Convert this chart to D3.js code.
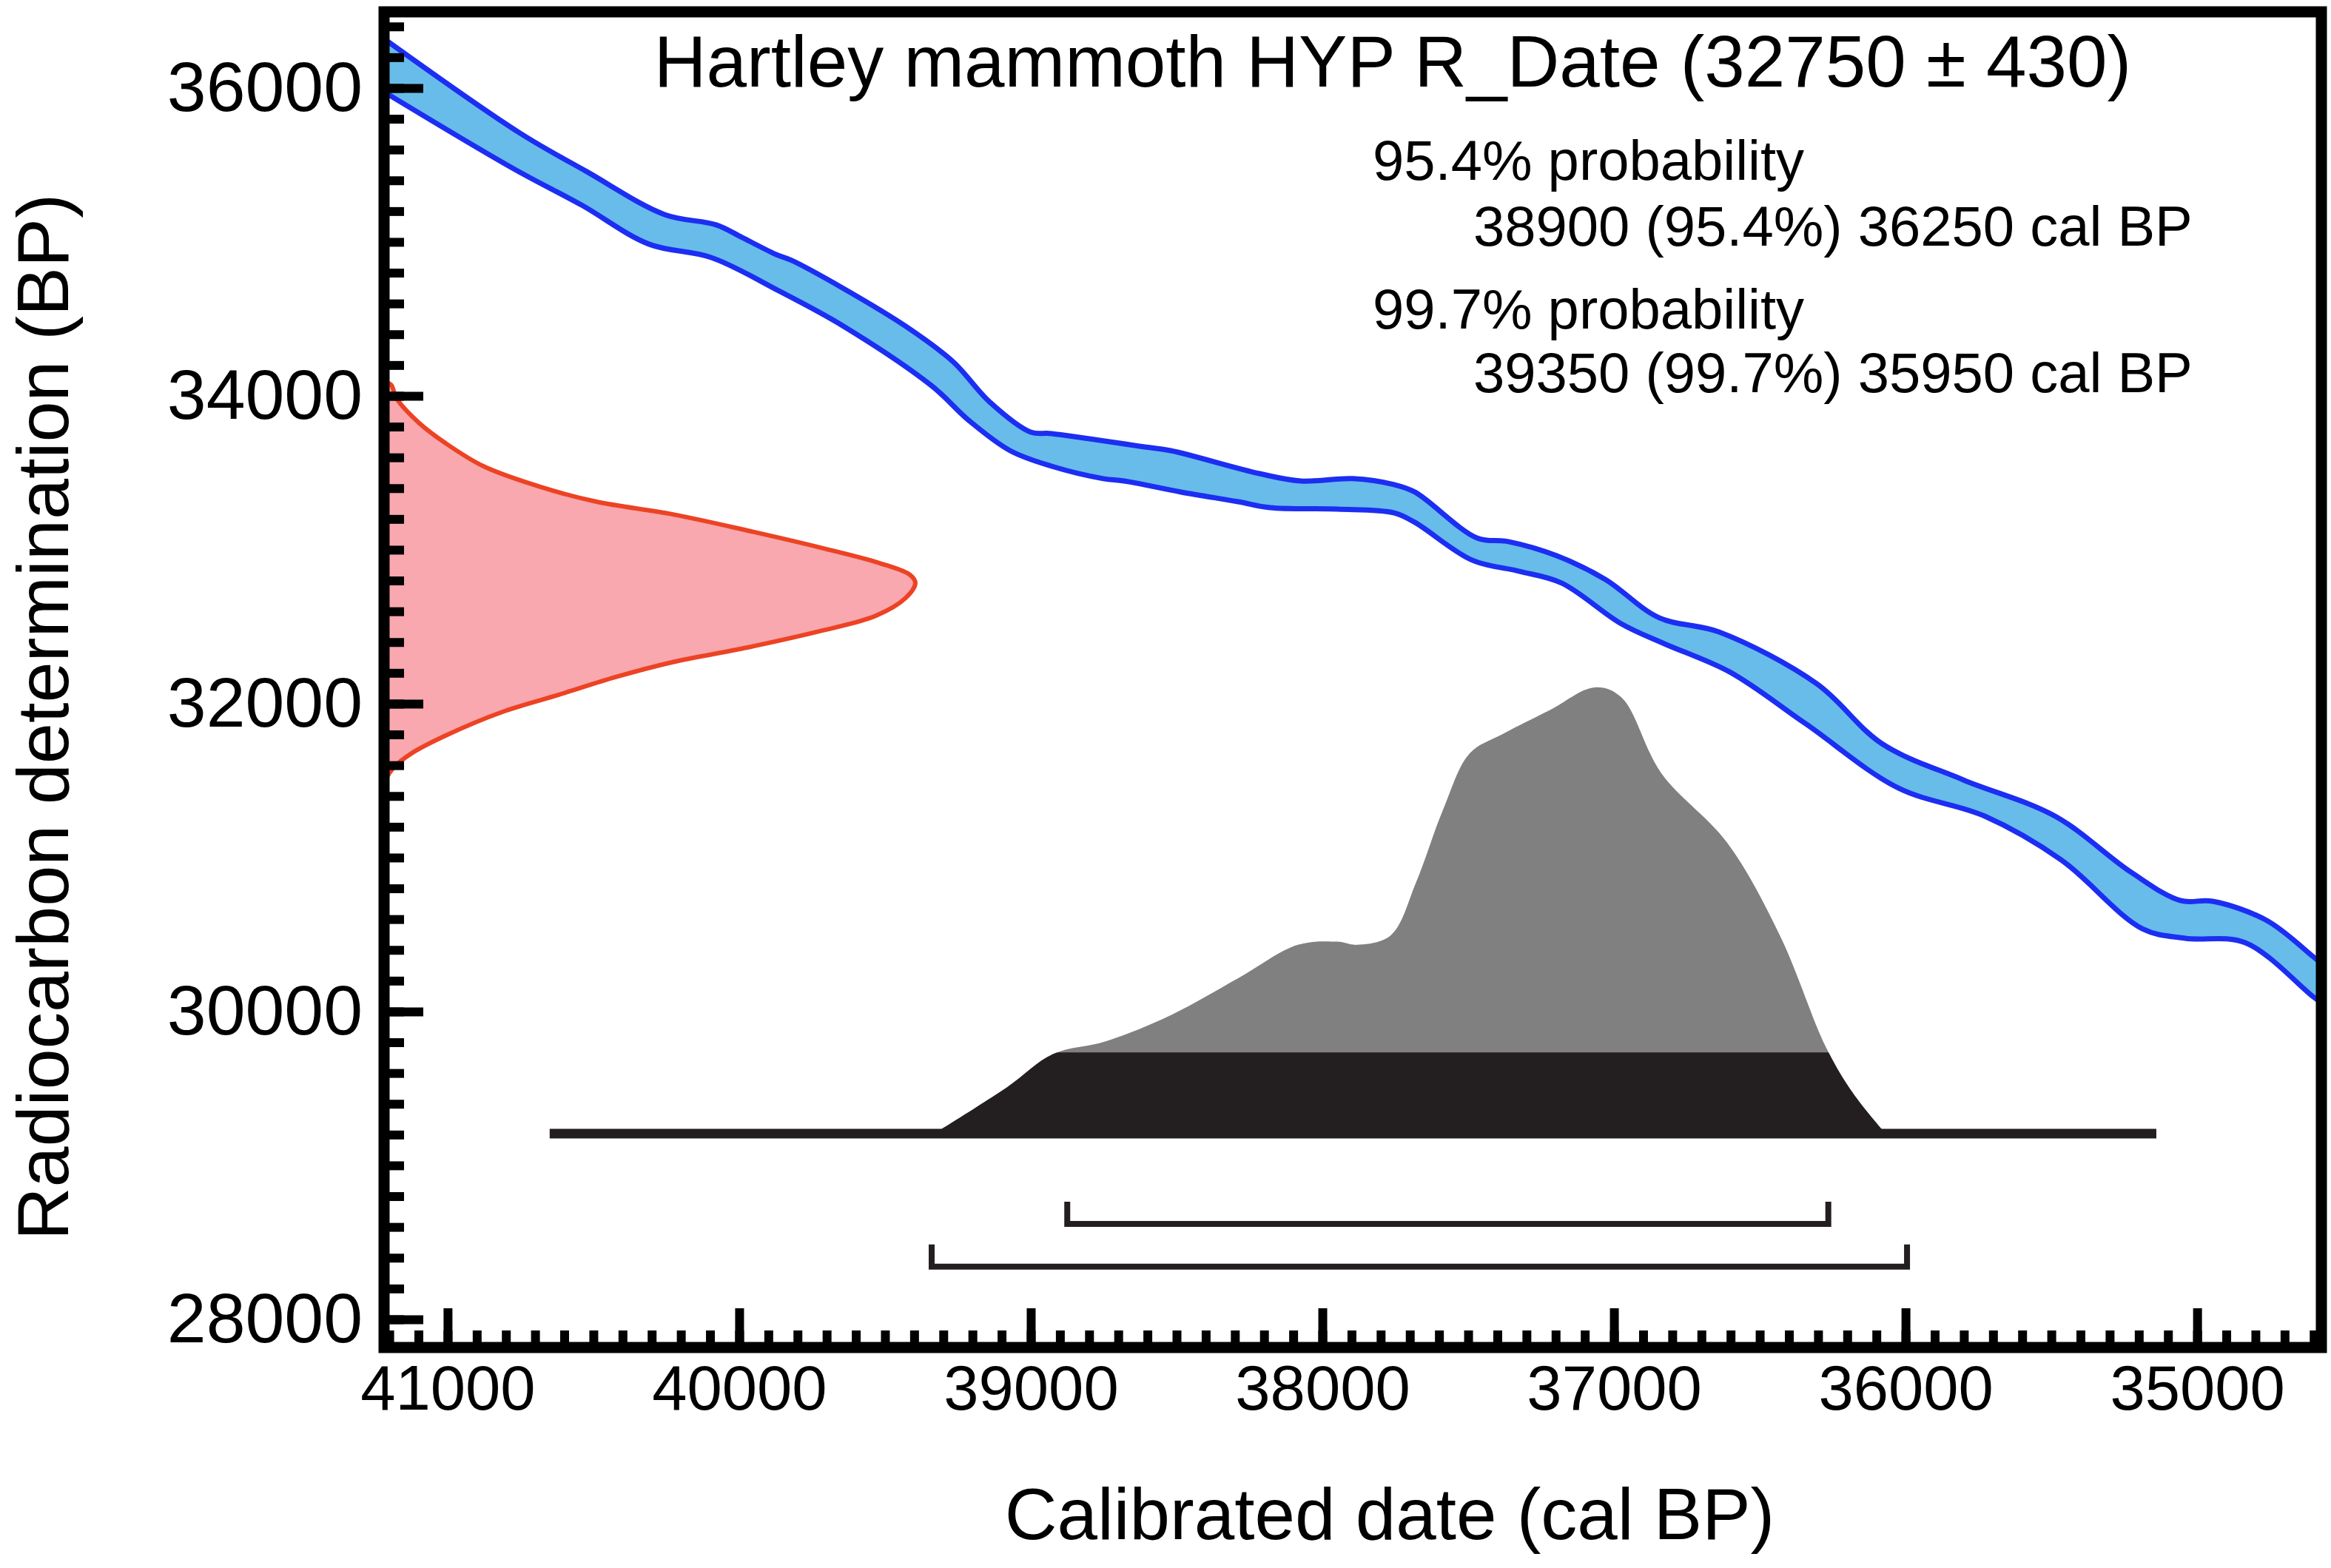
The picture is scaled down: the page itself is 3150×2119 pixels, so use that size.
<!DOCTYPE html>
<html>
<head>
<meta charset="utf-8">
<script src="https://cdn.jsdelivr.net/npm/d3@7"></script>
<style>
  body { margin: 0; background: #fff; }
  text { font-family: "Liberation Sans", Arial, sans-serif; fill: #000; }
</style>
</head>
<body>
<div id="chart"></div>
<script>
// axis ranges
var xDomain = [41218, 34574];   // cal BP, left -> right
var yDomain = [36495, 27817];   // radiocarbon BP, top -> bottom
var xMajor = [41000, 40000, 39000, 38000, 37000, 36000, 35000];
var yMajor = [28000, 30000, 32000, 34000, 36000];

// calibration curve band (cal BP, BP) - upper and lower edges
var calUpper = [[41218,36320],[40756,35712],[40523,35457],[40256,35178],[40079,35111],[39990,35029],
  [39873,34918],[39820,34880],[39642,34697],[39429,34452],[39266,34221],[39142,33962],[39000,33764],
  [38929,33755],[38609,33668],[38520,33644],[38216,33495],[38074,33447],[37896,33462],[37754,33423],
  [37683,33375],[37470,33077],[37363,33053],[37198,32962],[37030,32808],[36845,32558],[36640,32466],
  [36305,32130],[36081,31740],[35802,31505],[35487,31269],[35226,30904],[35058,30721],[34947,30716],
  [34761,30591],[34602,30356],[34560,30290]];
var calLower = [[41218,35975],[40774,35476],[40541,35240],[40310,34986],[40096,34899],[39865,34683],
  [39642,34452],[39338,34062],[39213,33841],[39071,33644],[38929,33543],[38751,33462],[38680,33447],
  [38485,33375],[38289,33312],[38180,33274],[37949,33264],[37754,33240],[37683,33178],[37487,32933],
  [37327,32861],[37180,32784],[36975,32519],[36827,32389],[36604,32207],[36343,31870],[36025,31452],
  [35728,31269],[35467,30986],[35188,30538],[35041,30476],[34835,30447],[34602,30096],[34560,30040]];

// radiocarbon date distribution on the y axis (BP, relative density)
var rBP   = [34090,34072,33981,33827,33692,33543,33409,33312,33231,33125,33010,32913,32837,32784,
             32688,32572,32476,32365,32269,32173,32058,31947,31793,31678,31582,31510,31420];
var rDens = [0,0.013,0.024,0.065,0.116,0.187,0.294,0.400,0.542,0.684,0.826,0.933,0.990,1.0,
             0.982,0.926,0.826,0.684,0.542,0.436,0.329,0.223,0.116,0.052,0.017,0.004,0];

// calibrated distribution (cal BP, relative probability)
var calYears = [39331,39081,38924,38741,38515,38289,38084,37949,37881,37766,37678,37586,37495,
                37383,37223,37066,36975,36838,36612,36431,36272,36180,36069];
var calProb  = [0,0.104,0.178,0.207,0.267,0.348,0.423,0.430,0.423,0.444,0.564,0.726,0.852,
                0.895,0.948,1.0,0.978,0.808,0.652,0.444,0.192,0.090,0];
var hpdLevel = 0.182;
var baseRange = [40650, 35140];

// ranges under the distribution
var rangeNames = ["95.4%", "99.7%"];
var rangeFrom = [38875, 39340];
var rangeTo   = [36265, 35995];
var rangeBP   = [28620, 28342];

var titleText = "Hartley mammoth HYP R_Date (32750 \u00b1 430)";
var noteLines = ["95.4% probability", "38900 (95.4%) 36250 cal BP",
                 "99.7% probability", "39350 (99.7%) 35950 cal BP"];

var W = 3150, H = 2119;
var margin = {top: 16, right: 13, bottom: 298, left: 519};
var width = W - margin.left - margin.right,
    height = H - margin.top - margin.bottom;

var svg = d3.select("#chart").append("svg")
  .attr("width", W).attr("height", H);

var g = svg.append("g")
  .attr("transform", "translate(" + margin.left + "," + margin.top + ")");

var x = d3.scaleLinear().domain(xDomain).range([0, width]);
var y = d3.scaleLinear().domain(yDomain).range([0, height]);
// heights of the two distributions
var pScale = d3.scaleLinear().domain([0, 1]).range([y(29207), y(32106)]);
var dScale = d3.scaleLinear().domain([0, 1]).range([0, x(39396)]);

g.append("clipPath").attr("id", "plotclip")
  .append("rect").attr("width", width).attr("height", height);

var calData = calYears.map(function(d, i) { return {yr: d, p: calProb[i]}; });

// calibrated distribution
var calArea = d3.area()
  .x(function(d) { return x(d.yr); })
  .y0(pScale(0))
  .y1(function(d) { return pScale(d.p); })
  .curve(d3.curveCatmullRom);

g.append("path").datum(calData)
  .attr("d", calArea)
  .attr("fill", "#808080");

g.append("clipPath").attr("id", "hpdclip")
  .append("rect")
  .attr("x", 0).attr("width", width)
  .attr("y", pScale(hpdLevel))
  .attr("height", pScale(0) - pScale(hpdLevel) + 2);

g.append("path").datum(calData)
  .attr("d", calArea)
  .attr("clip-path", "url(#hpdclip)")
  .attr("fill", "#231f20");

g.append("line")
  .attr("x1", x(baseRange[0])).attr("x2", x(baseRange[1]))
  .attr("y1", pScale(0)).attr("y2", pScale(0))
  .attr("stroke", "#231f20").attr("stroke-width", 13);

// range brackets
rangeNames.forEach(function(n, i) {
  var yy = y(rangeBP[i]);
  g.append("path")
    .attr("d", "M" + x(rangeFrom[i]) + "," + (yy - 30) + "V" + yy +
               "H" + x(rangeTo[i]) + "V" + (yy - 30))
    .attr("fill", "none")
    .attr("stroke", "#231f20")
    .attr("stroke-width", 8);
});

// radiocarbon date
var rData = rBP.map(function(d, i) { return {bp: d, d: rDens[i]}; });
g.append("path").datum(rData)
  .attr("d", d3.area()
    .y(function(d) { return y(d.bp); })
    .x0(0)
    .x1(function(d) { return dScale(d.d); })
    .curve(d3.curveCatmullRom))
  .attr("fill", "#f8a8ae");
g.append("path").datum(rData)
  .attr("d", d3.line()
    .y(function(d) { return y(d.bp); })
    .x(function(d) { return dScale(d.d); })
    .curve(d3.curveCatmullRom))
  .attr("fill", "none")
  .attr("stroke", "#ec4324")
  .attr("stroke-width", 6);

// calibration curve
var edge = d3.line()
  .x(function(d) { return x(d[0]); })
  .y(function(d) { return y(d[1]); })
  .curve(d3.curveCatmullRom);

var band = g.append("g").attr("clip-path", "url(#plotclip)");
band.append("path")
  .attr("d", edge(calUpper) + "L" + edge(calLower.slice().reverse()).slice(1) + "Z")
  .attr("fill", "#68bce9");
[calUpper, calLower].forEach(function(e) {
  band.append("path")
    .attr("d", edge(e))
    .attr("fill", "none")
    .attr("stroke", "#1c2ef2")
    .attr("stroke-width", 7);
});

// axes
function minorRange(a, b, step) {
  var out = [];
  for (var v = Math.ceil(Math.min(a, b) / step) * step; v <= Math.max(a, b); v += step) out.push(v);
  return out;
}

var xMinorAxis = d3.axisBottom(x)
  .tickValues(minorRange(xDomain[0], xDomain[1], 100))
  .tickSizeInner(-23).tickSizeOuter(0).tickFormat("");
var xMajorAxis = d3.axisBottom(x)
  .tickValues(xMajor)
  .tickSizeInner(-53).tickSizeOuter(0).tickPadding(24)
  .tickFormat(d3.format("d"));
var yMinorAxis = d3.axisLeft(y)
  .tickValues(minorRange(28000, 36400, 200))
  .tickSizeInner(-27).tickSizeOuter(0).tickFormat("");
var yMajorAxis = d3.axisLeft(y)
  .tickValues(yMajor)
  .tickSizeInner(-53).tickSizeOuter(0).tickPadding(29)
  .tickFormat(d3.format("d"));

var xAxes = g.append("g").attr("transform", "translate(0," + height + ")");
xAxes.append("g").call(xMinorAxis);
xAxes.append("g").call(xMajorAxis);
var yAxes = g.append("g");
yAxes.append("g").call(yMinorAxis);
yAxes.append("g").call(yMajorAxis);

g.selectAll(".domain").remove();
g.selectAll(".tick line").attr("stroke", "#000").attr("stroke-width", 12);
g.selectAll(".tick text").attr("fill", "#000")
  .style("font-family", "'Liberation Sans', Arial, sans-serif");
xAxes.selectAll(".tick text").style("font-size", "85px");
yAxes.selectAll(".tick text").style("font-size", "95px");

// frame
g.append("rect")
  .attr("width", width).attr("height", height)
  .attr("fill", "none")
  .attr("stroke", "#000")
  .attr("stroke-width", 15);

// texts
svg.append("text")
  .attr("x", 1882).attr("y", 117)
  .attr("text-anchor", "middle")
  .attr("font-size", 98)
  .text(titleText);

var notePos = [[1855, 243], [1991, 332], [1855, 444], [1991, 530]];
noteLines.forEach(function(t, i) {
  svg.append("text")
    .attr("x", notePos[i][0]).attr("y", notePos[i][1])
    .attr("font-size", 76)
    .text(t);
});

svg.append("text")
  .attr("x", 1878).attr("y", 2080)
  .attr("text-anchor", "middle")
  .attr("font-size", 98)
  .text("Calibrated date (cal BP)");

svg.append("text")
  .attr("transform", "translate(92,969)rotate(-90)")
  .attr("text-anchor", "middle")
  .attr("font-size", 99)
  .text("Radiocarbon determination (BP)");
</script>
</body>
</html>
